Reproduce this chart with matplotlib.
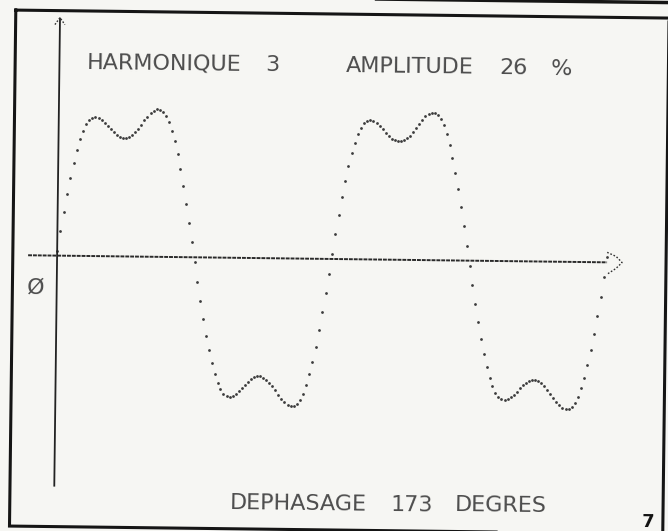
import numpy as np
import matplotlib
matplotlib.use("Agg")
import matplotlib.pyplot as plt
from matplotlib.transforms import Affine2D

# Waveform parameters printed on the sheet
harmonic_rank = 3
amplitude_pct = 26
phase_deg = 173
periods = 2
step_deg = 4.0

title_words = ["HARMONIQUE", "3", "AMPLITUDE", "26", "%"]
footer_words = ["DEPHASAGE", "173", "DEGRES"]
origin_label = "Ø"
page_number = "7"

W, H = 668, 531
fig = plt.figure(figsize=(W / 100, H / 100), dpi=100)
paper = "#f6f6f3"
ink = "#3c3c3c"
fig.patch.set_facecolor(paper)

ax = fig.add_axes([0, 0, 1, 1])
ax.set_axis_off()
ax.set_facecolor(paper)

# plot scale: origin position on the sheet and pixels per unit
x0_px, y0_px = 57, 259
px_per_deg = 275.0 / 360.0
px_per_unit = 160.0
ax.set_xlim(-x0_px / px_per_deg, (W - x0_px) / px_per_deg)
ax.set_ylim(-(H - y0_px) / px_per_unit, y0_px / px_per_unit)

# the printout sits slightly skewed on the page
tilt = Affine2D().rotate_deg_around(W / 2, H / 2, -0.7)
data_t = ax.transData + tilt
px_t = Affine2D().scale(1, -1).translate(0, H) + tilt

# fundamental plus the shifted harmonic
x = np.arange(0, 360 * periods + 1e-9, step_deg)
xr = np.deg2rad(x)
y = np.sin(xr) - amplitude_pct / 100 * np.sin(harmonic_rank * xr - np.deg2rad(phase_deg))
ax.plot(x, y, ls="none", marker="o", ms=2.0, mew=0, color=ink, transform=data_t)

# vertical axis with arrow
du = 1 / px_per_unit
dd = 1 / px_per_deg
y_top = (y0_px - 21) * du
y_bot = (y0_px - 490) * du
ax.plot([0, 0], [y_bot, y_top], color="#222222", lw=1.3, transform=data_t,
        solid_capstyle="butt")
ax.plot([-5 * dd, 0, 5 * dd], [y_top - 7 * du, y_top, y_top - 7 * du],
        color="#333333", lw=1.0, ls=(0, (1.2, 1.2)), transform=data_t)

# horizontal axis with arrow
x_left = (28 - x0_px) * dd
x_end = 360 * periods
ax.plot([x_left, x_end], [0, 0], color="#2a2a2a", lw=1.4, ls=(0, (2.0, 0.5)),
        transform=data_t)
ax.plot([x_end, x_end + 9 * dd, x_end + 15 * dd, x_end + 9 * dd, x_end],
        [10 * du, 6 * du, 0, -6 * du, -12 * du],
        color="#333333", lw=1.0, ls=(0, (1.2, 1.3)), transform=data_t)

# frame around the printout
L, R, T, B = 12.7, 666, 14, 530
ax.plot([L, R, R, L, L], [T, T, B, B, T], color="#151515", lw=2.2,
        transform=px_t, solid_joinstyle="miter")
ax.plot([0, W + 10], [-1.5, -1.5], color="#151515", lw=2.5, transform=px_t)

# printed texts
font = dict(family="DejaVu Sans", fontsize=16, color="#4d4d4d",
            rotation=-0.7, rotation_mode="anchor", va="baseline", ha="left")
for word, xp in zip(title_words, [85, 263, 343, 497, 548]):
    ax.text(xp, 72, word, transform=px_t, **font)
for word, xp in zip(footer_words, [233, 394, 458]):
    ax.text(xp, 510, word, transform=px_t, **font)
ax.text(27, 297, origin_label, transform=px_t, **font)

ax.text(651, 523, page_number, transform=px_t, family="DejaVu Sans",
        fontweight="bold", fontsize=13, color="#111111", ha="center",
        va="baseline", rotation=-0.7, rotation_mode="anchor")

fig.savefig("out.png", dpi=100, facecolor=paper)
